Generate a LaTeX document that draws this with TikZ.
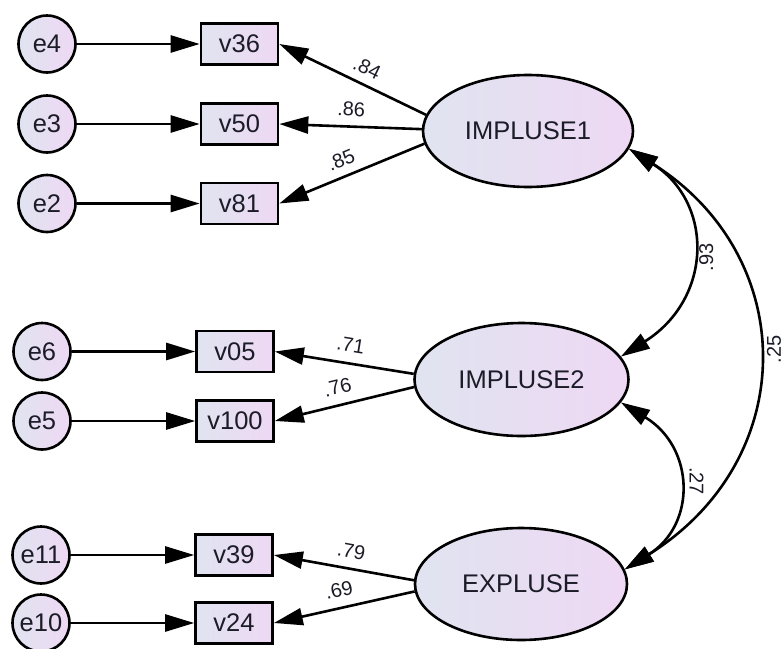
\documentclass[tikz,border=0pt]{standalone}
\usepackage{fontspec}
\setmainfont{Liberation Sans}
\usetikzlibrary{arrows.meta,shapes.geometric}
\definecolor{shadeL}{RGB}{224,228,240}
\definecolor{shadeR}{RGB}{238,216,244}
\definecolor{ink}{RGB}{28,28,40}
\begin{document}
\begin{tikzpicture}[x=1pt,y=-1pt,line width=2.6pt,
  >={Triangle[length=29pt,width=17pt]},
  shaded/.style={draw, inner sep=0pt, left color=shadeL, right color=shadeR,
    text=ink, font=\fontsize{25.5}{30}\selectfont},
  obs/.style={shaded, rectangle, minimum width=77pt, minimum height=41pt},
  err/.style={shaded, circle, minimum size=57pt},
  lat/.style={shaded, ellipse, minimum width=212pt, minimum height=112pt},
  coef/.style={font=\fontsize{20}{23}\selectfont, text=ink, inner sep=1pt, sloped},
  corr/.style={font=\fontsize{20}{23}\selectfont, text=ink, inner sep=1pt}]
\useasboundingbox (0,0) rectangle (784,648);

% error terms
\node[err] (e4)  at (47,44)    {e4};
\node[err] (e3)  at (47,124)   {e3};
\node[err] (e2)  at (47,203.5) {e2};
\node[err] (e6)  at (42,351.5) {e6};
\node[err] (e5)  at (42,421)   {e5};
\node[err] (e11) at (41,555)   {e11};
\node[err] (e10) at (41,623)   {e10};

% observed variables
\node[obs] (v36)  at (239.5,44)    {v36};
\node[obs] (v50)  at (239.5,124)   {v50};
\node[obs] (v81)  at (239.5,203.5) {v81};
\node[obs] (v05)  at (235,351.5)   {v05};
\node[obs] (v100) at (235,421)     {v100};
\node[obs] (v39)  at (234,555)     {v39};
\node[obs] (v24)  at (234,623)     {v24};

% latent factors
\node[lat, minimum width=210pt] (imp1) at (528,131)   {IMPLUSE1};
\node[lat, minimum width=214pt, minimum height=113pt] (imp2) at (521.5,379.5) {IMPLUSE2};
\node[lat] (expl) at (521,584) {EXPLUSE};

% error paths
\foreach \e/\v in {e4/v36,e3/v50,e2/v81,e6/v05,e5/v100,e11/v39,e10/v24}
  \draw[->] (\e) -- (\v);

% factor loadings
\draw[<-] (v36.east) -- (imp1.171) node[coef, pos=0.55, above=7pt] {.84};
\draw[<-] (v50.east) -- (imp1.179) node[coef, pos=0.5, above=8pt] {.86};
\draw[<-] (v81.east) -- (imp1.187) node[coef, pos=0.47, above=7.5pt] {.85};
\draw[<-] (v05.east) -- (imp2.177) node[coef, pos=0.525, above=9pt] {.71};
\draw[<-] (v100.east) -- (imp2.184) node[coef, pos=0.48, above=8.5pt] {.76};
\draw[<-] (v39.east) -- (expl.178) node[coef, pos=0.53, above=8.5pt] {.79};
\draw[<-] (v24.east) -- (expl.184) node[coef, pos=0.49, above=8.5pt] {.69};

% factor correlations
\draw[<->] (imp1.-10) .. controls +(85,54) and +(92,-58) .. (imp2.13)
  node[corr, pos=0.5, xshift=15pt, yshift=-6pt, rotate=90] {.93};
\draw[<->] (imp1.-10) .. controls +(171,108) and +(176,-110) .. (expl.8)
  node[corr, pos=0.5, xshift=17pt, yshift=9pt, rotate=90] {.25};
\draw[<->] (imp2.-13) .. controls +(74,45) and +(72,-45) .. (expl.8)
  node[corr, pos=0.5, xshift=19pt, yshift=5pt, rotate=-90] {.27};
\end{tikzpicture}
\end{document}
